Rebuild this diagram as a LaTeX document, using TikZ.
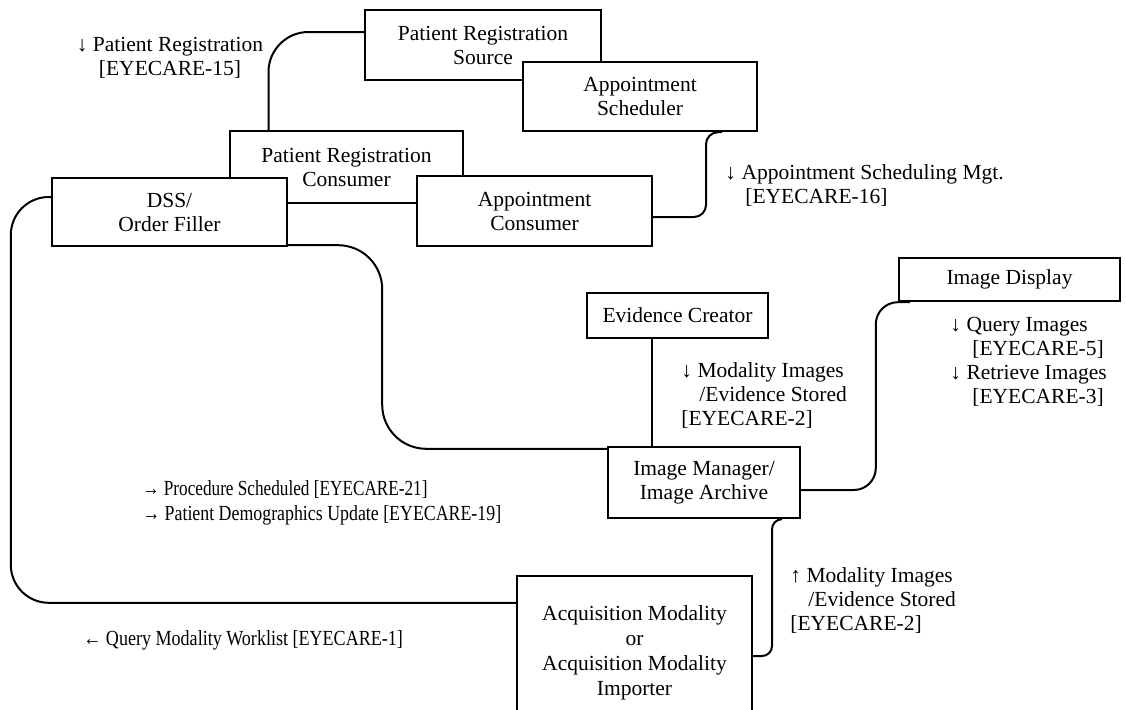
\documentclass[tikz,border=0pt]{standalone}
\usepackage{fontspec}
\setmainfont{Liberation Serif}
\usetikzlibrary{calc}

\begin{document}
\begin{tikzpicture}[x=0.5pt,y=-0.5pt,font=\fontsize{10.75}{12}\selectfont]
    \clip (0,0) rectangle (1126,709);
             \begin{scope}[every node/.style = {rectangle, draw, line width=1.2pt, fill=white, align=center, inner sep=0pt}]
                \node[minimum width=118pt, minimum height=35pt] (prs) at (483,45) {Patient Registration\\Source};
                \node[minimum width=117pt, minimum height=34.5pt] (as) at (640,96.5) {Appointment\\Scheduler};
                \node[minimum width=116.5pt, minimum height=36pt] (prc) at (346.5,167) {Patient Registration\\Consumer};
                \node[minimum width=117.5pt, minimum height=34pt] (dss) at (169.5,212) {DSS/\\Order Filler};
                \node[minimum width=117.5pt, minimum height=35pt] (ac) at (534.5,211) {Appointment\\Consumer};
                \node[minimum width=90.5pt, minimum height=22.5pt] (ec) at (677.5,315.5) {Evidence Creator};
                \node[minimum width=110.5pt, minimum height=21.5pt] (id) at (1009.5,279.5) {Image Display};
                \node[minimum width=96pt, minimum height=35.5pt] (im) at (704,482.5) {Image Manager/\\Image Archive};
                \node[minimum width=117.5pt, minimum height=77pt, font=\fontsize{10.75}{12.4}\selectfont] (am) at (634.5,653) {Acquisition Modality\\or\\Acquisition Modality\\Importer};
            \end{scope}

            \begin{scope}[every node/.style = {align=left, inner sep=0pt, anchor=west}]
                \node[align=center, anchor=center] (l1) at (170,57.5) {↓ Patient Registration\\{}[EYECARE-15]};
                \node (l2) at (725,185) {↓ Appointment Scheduling Mgt.\\\hspace*{10pt}[EYECARE-16]};
                \node (l3) at (681,395) {↓ Modality Images\\\hspace*{9pt}/Evidence Stored\\{}[EYECARE-2]};
                \node (l4) at (950,362) {↓ Query Images\\\hspace*{11pt}[EYECARE-5]\\↓ Retrieve Images\\\hspace*{11pt}[EYECARE-3]};
                \node[font=\fontsize{10.75}{12.5}\selectfont] (l5) at (142,502.5) {\scalebox{0.8}[1]{→ Procedure Scheduled [EYECARE-21]}\\\scalebox{0.83}[1]{→ Patient Demographics Update [EYECARE-19]}};
                \node (l6) at (790,600) {↑ Modality Images\\\hspace*{9pt}/Evidence Stored\\{}[EYECARE-2]};
                \node (l7) at (83,640) {\scalebox{0.84}[1]{← Query Modality Worklist [EYECARE-1]}};
            \end{scope}

            \begin{scope}[line width=1pt]
                \draw[rounded corners=20pt] ([yshift=6.5pt]prs.west) -| ([xshift=-39pt]prc.north);
                \draw[rounded corners=6pt] ([yshift=-3pt]ac.east) -| ([xshift=33pt]as.south) -- ++(8pt,0);
                \draw[rounded corners=22pt] ([yshift=1pt]dss.south east) -- ++(47pt,0) |- ([yshift=-1.5pt]im.north west);
                \draw[rounded corners=19pt] ([yshift=7.5pt]dss.west) -- ++(-20pt,0) |- ([yshift=-14pt]am.north west);
                \draw ([xshift=-13pt]ec.south) -- ([xshift=-13pt]ec.south |- im.north);
                \draw[rounded corners=11pt] ([yshift=-3.75pt]im.east) -| ([xshift=-11pt]id.south west) -- ([xshift=6pt]id.south west);
                \draw[rounded corners=5pt] ([yshift=-1.5pt]am.east) -| ([xshift=34pt]im.south) -- ++(5pt,0);
            \end{scope}
        \end{tikzpicture}
\end{document}
